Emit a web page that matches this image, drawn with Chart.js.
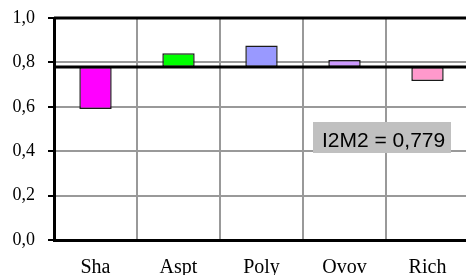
<!DOCTYPE html>
<html>
<head>
<meta charset="utf-8">
<script src="https://cdn.jsdelivr.net/npm/chart.js@4"></script>
<style>
  html, body { margin: 0; padding: 0; background: #fff; overflow: hidden; width: 466px; height: 275px; }
  canvas { display: block; }
</style>
</head>
<body>
<canvas id="c" width="470" height="275"></canvas>
<script>
const categories = ['Sha', 'Aspt', 'Poly', 'Ovov', 'Rich'];
const baseline = 0.779;
const values = [0.590, 0.841, 0.876, 0.811, 0.716];
const barColors = ['#FF00FF', '#00FF00', '#9999FF', '#CC99FF', '#FF99CC'];
const yMin = 0, yMax = 1.0, yStep = 0.2;
const annotationText = 'I2M2 = 0,779';

const floating = values.map(v => [baseline, v]);

const framePlugin = {
  id: 'frame',
  afterDatasetsDraw(chart) {
    const { ctx, chartArea, scales } = chart;
    const yb = scales.y.getPixelForValue(baseline);
    ctx.save();
    ctx.strokeStyle = '#000';
    ctx.lineWidth = 3;
    ctx.beginPath();
    ctx.moveTo(chartArea.left, yb);
    ctx.lineTo(chartArea.right, yb);
    ctx.stroke();
    ctx.beginPath();
    ctx.moveTo(chartArea.left, chartArea.top);
    ctx.lineTo(chartArea.right, chartArea.top);
    ctx.stroke();
    // annotation box
    const bx = 313, by = 122, bw = 138, bh = 31;
    ctx.fillStyle = '#C0C0C0';
    ctx.fillRect(bx, by, bw, bh);
    ctx.fillStyle = '#000';
    ctx.font = '21px "Liberation Sans", Arial, sans-serif';
    ctx.textBaseline = 'alphabetic';
    ctx.textAlign = 'left';
    ctx.fillText(annotationText, 322, 147);
    ctx.restore();
  }
};

new Chart(document.getElementById('c'), {
  type: 'bar',
  data: {
    labels: categories,
    datasets: [{
      data: floating,
      backgroundColor: barColors,
      borderColor: '#1a1a1a',
      borderWidth: 1.5,
      borderSkipped: false,
      barPercentage: 0.39,
      categoryPercentage: 1.0
    }]
  },
  options: {
    responsive: false,
    animation: false,
    layout: { padding: { top: 18, right: 1, left: 0, bottom: 0 } },
    plugins: { legend: { display: false }, tooltip: { enabled: false } },
    scales: {
      x: {
        offset: true,
        grid: { offset: true, color: '#999999', lineWidth: 2, drawTicks: false },
        border: { color: '#000', width: 3 },
        ticks: {
          color: '#000',
          padding: 16,
          font: { family: '"Liberation Serif", "Times New Roman", serif', size: 20 }
        },
        afterFit(scale) { scale.height = 35; scale.paddingLeft = 0; scale.paddingRight = 0; }
      },
      y: {
        min: yMin, max: yMax,
        grid: { color: '#999999', lineWidth: 2, tickColor: '#000', tickLength: 6, tickWidth: 2 },
        border: { color: '#000', width: 3 },
        ticks: {
          stepSize: yStep,
          color: '#000',
          padding: 13,
          font: { family: '"Liberation Serif", "Times New Roman", serif', size: 18 },
          callback: v => v.toFixed(1).replace('.', ',')
        },
        afterFit(scale) { scale.width = 54; scale.paddingTop = 0; scale.paddingBottom = 0; }
      }
    }
  },
  plugins: [framePlugin]
});
</script>
</body>
</html>
